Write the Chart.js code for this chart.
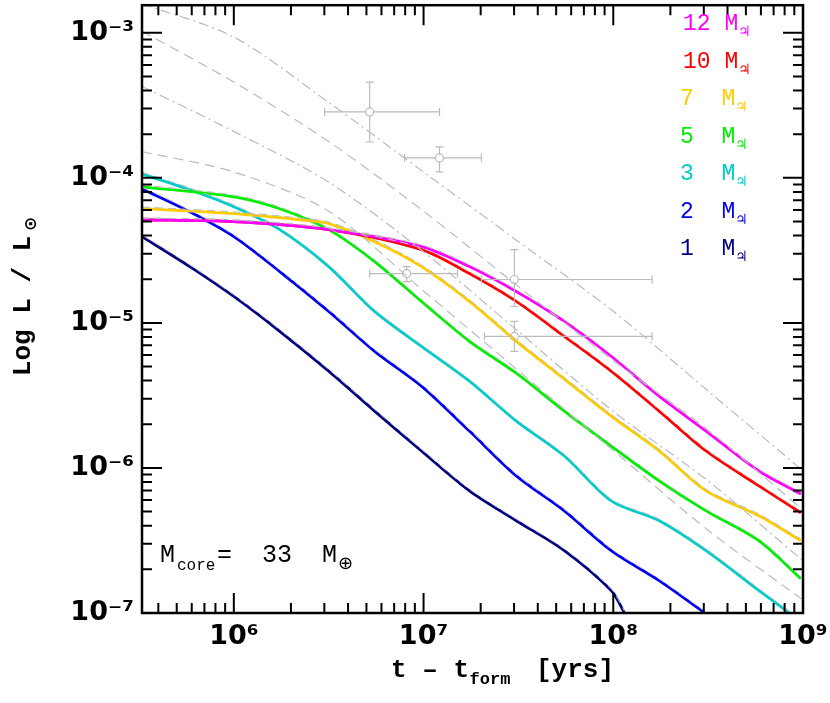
<!DOCTYPE html>
<html><head><meta charset="utf-8">
<script src="https://cdn.jsdelivr.net/npm/chart.js@4"></script>
<style>html,body{margin:0;background:#fff}#w{width:830px;height:703px}</style>
</head><body><div id="w"><canvas id="c"></canvas></div>
<script>
// log10(t - t_form [yrs]) sample positions and log10(L/Lsun) values
const massLabels = ["12","10","7","5","3","2","1"];
const massColors = ["#ff00ff","#ff0000","#ffcc00","#00ee00","#00cccc","#0000ee","#000080"];
const logT_12 = [5.516,6,6.5,6.989,7.242,7.489,7.742,7.989,8.242,8.489,8.768,8.989];
const logL_12 = [-4.289,-4.302,-4.357,-4.474,-4.612,-4.784,-4.990,-5.230,-5.505,-5.746,-6.021,-6.179];
const logT_10 = [5.516,6,6.5,6.989,7.242,7.489,7.742,7.989,8.242,8.489,8.768,8.989];
const logL_10 = [-4.289,-4.302,-4.357,-4.495,-4.660,-4.852,-5.093,-5.333,-5.608,-5.883,-6.124,-6.309];
const logT_7 = [5.516,6,6.347,6.5,6.742,6.989,7.242,7.489,7.742,7.989,8.242,8.489,8.768,8.989];
const logL_7 = [-4.213,-4.247,-4.289,-4.316,-4.440,-4.612,-4.852,-5.127,-5.388,-5.643,-5.883,-6.158,-6.330,-6.502];
const logT_5 = [5.516,6,6.242,6.5,6.742,6.989,7.242,7.489,7.742,7.989,8.242,8.489,8.768,8.989];
const logL_5 = [-4.062,-4.131,-4.213,-4.357,-4.577,-4.852,-5.127,-5.347,-5.608,-5.849,-6.089,-6.296,-6.502,-6.763];
const logT_3 = [5.516,5.768,6,6.242,6.5,6.742,6.989,7.242,7.489,7.742,7.989,8.242,8.489,8.768,8.926];
const logL_3 = [-3.973,-4.082,-4.199,-4.357,-4.612,-4.921,-5.162,-5.402,-5.677,-5.918,-6.227,-6.364,-6.570,-6.845,-6.997];
const logT_2 = [5.516,5.768,6,6.242,6.5,6.742,6.989,7.242,7.489,7.742,7.989,8.242,8.479];
const logL_2 = [-4.076,-4.234,-4.405,-4.646,-4.921,-5.196,-5.436,-5.746,-6.055,-6.296,-6.570,-6.777,-6.997];
const logT_1 = [5.516,5.768,6,6.242,6.5,6.742,6.989,7.242,7.489,7.742,7.989,8.058];
const logL_1 = [-4.405,-4.612,-4.818,-5.058,-5.333,-5.608,-5.883,-6.158,-6.364,-6.570,-6.845,-6.997];
// grey reference tracks
const greyT = [5.516,6,6.5,7,7.5,8,8.5,9];
const greyL1 = [-2.80,-3.03,-3.48,-3.96,-4.44,-4.92,-5.47,-6.02];
const greyL2 = [-2.99,-3.34,-3.75,-4.23,-4.75,-5.26,-5.74,-6.29];
const greyL3 = [-3.37,-3.68,-4.03,-4.51,-5.06,-5.61,-6.09,-6.64];
const greyL4 = [-3.82,-3.96,-4.23,-4.78,-5.33,-5.88,-6.43,-6.91];
// observed points (log values)
const obsT = [6.716,7.084,6.911,7.479,7.479];
const obsTlo = [6.479,6.900,6.716,7.305,7.321];
const obsThi = [7.084,7.305,7.179,8.205,8.205];
const obsL = [-3.546,-3.863,-4.660,-4.701,-5.093];
const obsLlo = [-3.753,-3.959,-4.715,-4.887,-5.196];
const obsLhi = [-3.340,-3.787,-4.612,-4.495,-4.990];
const xTickExp = [6,7,8,9];
const yTickExp = [-3,-4,-5,-6,-7];

const P = v => Math.pow(10, v);
const mk = (ts, ls) => ts.map((t,i)=>({x:P(t),y:P(ls[i])}));
const tracks = [[logT_12,logL_12],[logT_10,logL_10],[logT_7,logL_7],[logT_5,logL_5],[logT_3,logL_3],[logT_2,logL_2],[logT_1,logL_1]];
const ds = [];
[greyL1,greyL2,greyL3,greyL4].forEach((g,i)=>ds.push({data:mk(greyT,g),borderColor:'#bbbbbb',borderWidth:1.2,borderDash:i%2?[10,6]:[10,4,2,4],pointRadius:0,tension:0.3}));
tracks.forEach(([t,l])=>ds.push({data:mk(t,l.map(v=>v+0.012)),borderColor:'#bbbbbb',borderWidth:1,borderDash:[8,5],pointRadius:0,tension:0.3}));
tracks.forEach(([t,l],i)=>ds.push({data:mk(t,l),borderColor:massColors[i],borderWidth:2.8,pointRadius:0,tension:0.3}));
ds.push({type:'scatter',data:mk(obsT,obsL),showLine:false,pointRadius:4,pointBorderColor:'#bbbbbb',pointBackgroundColor:'rgba(0,0,0,0)',pointBorderWidth:1.2});

const sup = {'-':'⁻','0':'⁰','1':'¹','2':'²','3':'³','4':'⁴','5':'⁵','6':'⁶','7':'⁷','8':'⁸','9':'⁹'};
const supS = n => String(n).split('').map(c=>sup[c]).join('');

const plug = {id:'deco', afterDatasetsDraw(ch){
  const c=ch.ctx, a=ch.chartArea, xs=ch.scales.x, ys=ch.scales.y;
  c.save();
  c.strokeStyle='#bbbbbb'; c.lineWidth=1.2;
  obsT.forEach((t,i)=>{
    const x=xs.getPixelForValue(P(t)), y=ys.getPixelForValue(P(obsL[i]));
    const x1=xs.getPixelForValue(P(obsTlo[i])), x2=xs.getPixelForValue(P(obsThi[i]));
    const y1=ys.getPixelForValue(P(obsLlo[i])), y2=ys.getPixelForValue(P(obsLhi[i]));
    c.beginPath();
    c.moveTo(x1,y);c.lineTo(x-4,y);c.moveTo(x+4,y);c.lineTo(x2,y);
    c.moveTo(x,y1);c.lineTo(x,y+4);c.moveTo(x,y-4);c.lineTo(x,y2);
    c.moveTo(x1,y-4);c.lineTo(x1,y+4);c.moveTo(x2,y-4);c.lineTo(x2,y+4);
    c.moveTo(x-4,y1);c.lineTo(x+4,y1);c.moveTo(x-4,y2);c.lineTo(x+4,y2);
    c.stroke();
  });
  c.strokeStyle='#000'; c.lineWidth=2.5;
  c.strokeRect(a.left,a.top,a.right-a.left,a.bottom-a.top);
  c.lineWidth=2;
  for(let e=5;e<=9;e++) for(let m=1;m<10;m++){
    const v=m*Math.pow(10,e); if(v<xs.min||v>xs.max) continue;
    const x=xs.getPixelForValue(v), L=m===1?20:10;
    c.beginPath();c.moveTo(x,a.bottom);c.lineTo(x,a.bottom-L);c.moveTo(x,a.top);c.lineTo(x,a.top+L);c.stroke();
  }
  for(let e=-7;e<=-3;e++) for(let m=1;m<10;m++){
    const v=m*Math.pow(10,e); if(v<ys.min||v>ys.max) continue;
    const y=ys.getPixelForValue(v), L=m===1?20:10;
    c.beginPath();c.moveTo(a.left,y);c.lineTo(a.left+L,y);c.moveTo(a.right,y);c.lineTo(a.right-L,y);c.stroke();
  }
  c.fillStyle='#000'; c.font='bold 27px "DejaVu Sans"';
  c.textAlign='center'; c.textBaseline='top';
  xTickExp.forEach(e=>c.fillText('10'+supS(e), xs.getPixelForValue(P(e)), a.bottom+10));
  c.textAlign='right'; c.textBaseline='middle';
  yTickExp.forEach(e=>c.fillText('10'+supS(e), a.left-8, ys.getPixelForValue(P(e))));
  c.font='bold 26px "Liberation Mono"'; c.textAlign='center'; c.textBaseline='alphabetic';
  c.fillText('t – t', 430, 677);
  c.font='bold 17px "Liberation Mono"'; c.fillText('form', 490, 684);
  c.font='bold 26px "Liberation Mono"'; c.fillText('[yrs]', 575, 677);
  c.save(); c.translate(30,306); c.rotate(-Math.PI/2);
  c.fillText('Log L / L', 0, 0);
  c.font='bold 17px "DejaVu Sans"'; c.fillText('⊙', 82, 6);
  c.restore();
  c.textAlign='left'; c.textBaseline='alphabetic';
  massLabels.forEach((m,i)=>{
    const y=30+i*37.5;
    c.fillStyle=massColors[i];
    c.font='23px "Liberation Mono"';
    const s=m+(m.length>1?' ':'  ');
    const x0=m.length>1?683:680;
    c.fillText(s+'M',x0,y);
    const w=c.measureText(s+'M').width;
    c.font='bold 14px "DejaVu Sans"'; c.fillText('♃',x0+w,y+6);
  });
  c.fillStyle='#000'; c.font='25px "Liberation Mono"';
  c.fillText('M',160,562);
  c.font='16px "Liberation Mono"'; c.fillText('core',177,570);
  c.font='25px "Liberation Mono"'; c.fillText('=  33  M',217,562);
  c.font='18px "DejaVu Sans"'; c.fillText('⊕',338,569);
  c.restore();
}};

new Chart(document.getElementById('c'),{
  type:'line',
  data:{datasets:ds},
  options:{responsive:true,maintainAspectRatio:false,animation:false,
    layout:{padding:{left:134,right:27,top:0,bottom:82}},
    plugins:{legend:{display:false},tooltip:{enabled:false}},
    scales:{
      x:{type:'logarithmic',min:P(5.516),max:1e9,ticks:{display:false},grid:{display:false},border:{display:false}},
      y:{type:'logarithmic',min:1e-7,max:P(-2.81),ticks:{display:false},grid:{display:false},border:{display:false}}
    }},
  plugins:[plug]
});
</script></body></html>
